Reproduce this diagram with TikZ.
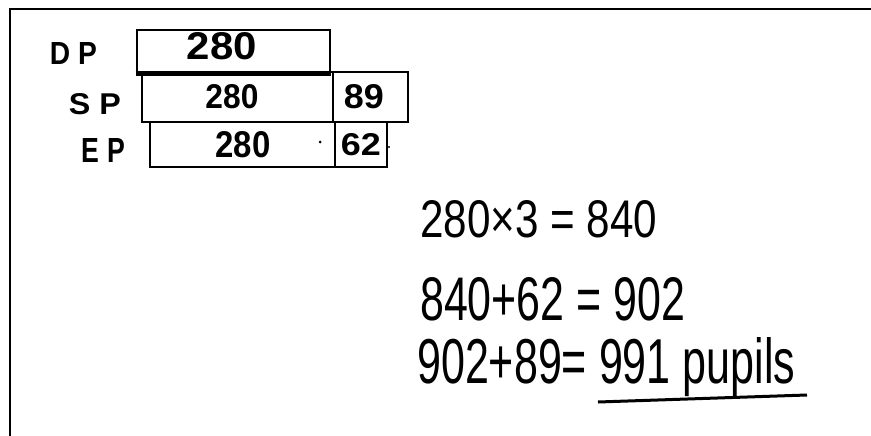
\documentclass[tikz,border=0pt]{standalone}
\usepackage{fontspec}
\setmainfont{Liberation Sans}
\newcommand{\hw}[3]{\resizebox{#1pt}{#2pt}{#3}}
\begin{document}
\begin{tikzpicture}[x=1pt,y=-1pt,
  bar/.style={draw,line width=2.8pt,rectangle,inner sep=0pt},
  txt/.style={inner sep=0pt,anchor=center,font=\bfseries},
  eq/.style={inner sep=0pt,anchor=north west},
  frame/.style={line width=2pt}]
\useasboundingbox (0,0) rectangle (871,436);
% frame
\coordinate (ftr) at (871,9);
\coordinate (ftl) at (10,9);
\coordinate (fbl) at (10,436);
\draw[frame] (ftr) -- (ftl) -- (fbl);
% bar model
\node[bar,minimum width=193pt,minimum height=42pt] (dp) at (233.5,51) {};
\node[bar,minimum width=191pt,minimum height=50pt] (sp) at (237.5,97) {};
\node[bar,minimum width=75pt,minimum height=50pt] (sp89) at (370.5,97) {};
\node[bar,minimum width=185pt,minimum height=45pt] (ep) at (242.5,144.5) {};
\node[bar,minimum width=52pt,minimum height=45pt] (ep62) at (361,144.5) {};
\draw[line width=4.5pt] (dp.south west) -- (dp.south east);
% numbers in boxes
\node[txt] (t1) at (222,46.5) {\hw{70}{27}{280}};
\node[txt] (t2) at (232,97) {\hw{53}{24}{280}};
\node[txt] (t3) at (243,145) {\hw{55}{26}{280}};
\node[txt] (t4) at (364,97) {\hw{40}{24}{89}};
\node[txt] (t5) at (361,145) {\hw{40}{22}{62}};
\fill (320,142) circle (1.5pt);
\fill (389,147) circle (1.1pt);
% row labels
\node[txt] (l1) at (73.5,53.5) {\hw{47}{22}{D P}};
\node[txt] (l2) at (95,104) {\hw{52}{21}{S P}};
\node[txt] (l3) at (103.5,150) {\hw{43}{24}{E P}};
% equations
\node[eq] (e1) at (420,200) {\hw{237}{37}{280×3 = 840}};
\node[eq] (e2) at (420,277) {\hw{265}{43}{840+62 = 902}};
\node[eq] (e3) at (417,337) {\hw{378}{46}{902+89= 991 pupils}};
\coordinate (u1) at (598,402);
\coordinate (u2) at (807,395);
\draw[line width=3pt] (u1) -- (u2);
\end{tikzpicture}
\end{document}
